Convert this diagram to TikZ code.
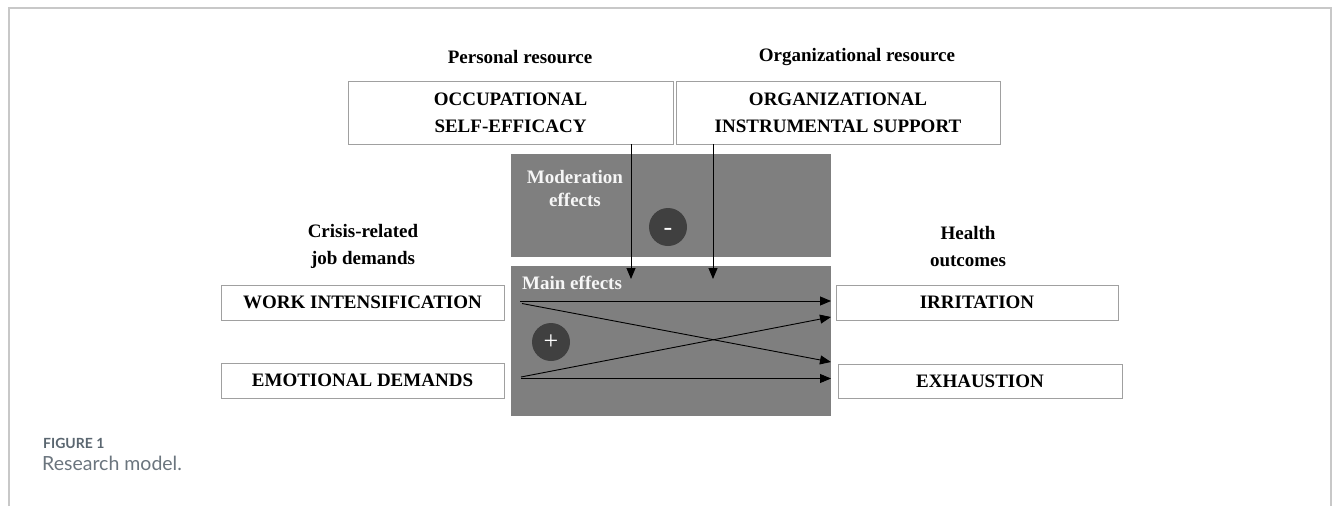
\documentclass[tikz,border=0pt]{standalone}
\usepackage{fontspec}
\setmainfont{Liberation Serif}
\newfontfamily\capfont{Lato}
\usetikzlibrary{arrows.meta}
\definecolor{boxgray}{HTML}{7F7F7F}
\definecolor{circgray}{HTML}{404040}
\definecolor{edgegray}{HTML}{A0A0A0}
\definecolor{framegray}{HTML}{C8C8C8}
\definecolor{capgray}{HTML}{5A6670}
\tikzset{
  wbox/.style={draw=edgegray, line width=1pt, fill=white, inner sep=0pt, outer sep=0pt,
    font=\fontsize{19}{27}\selectfont\bfseries, align=center},
  gbox/.style={fill=boxgray, draw=none, inner sep=0pt, outer sep=0pt},
  lbl/.style={font=\fontsize{19}{27}\selectfont\bfseries, align=center, inner sep=0pt},
  wlbl/.style={font=\fontsize{19}{23}\selectfont\bfseries, align=center, inner sep=0pt, text=white!93!gray},
  sign/.style={circle, fill=circgray, minimum size=38pt, inner sep=0pt, text=white, font=\fontsize{26}{26}\selectfont},
  arr/.style={line width=0.9pt, -{Triangle[length=11pt,width=9pt]}}
}
\begin{document}
\begin{tikzpicture}[x=1pt,y=-1pt]
\useasboundingbox (0,0) rectangle (1333,506);
% frame
\draw[framegray, line width=2pt] (9,506) -- (9,7.5) -- (1331,7.5) -- (1331,506);
% headings
\node[lbl] (hpers) at (520,57) {Personal resource};
\node[lbl] (horg) at (857,57) {Organizational resource};
\node[lbl] (hcris) at (363,246.5) {Crisis-related\\job demands};
\node[lbl] (hhealth) at (968,246.5) {Health\\outcomes};
% resource boxes
\node[wbox, minimum width=325pt, minimum height=63pt] (ose) at (510.5,112.5) {OCCUPATIONAL\\SELF-EFFICACY};
\node[wbox, minimum width=324pt, minimum height=63pt] (ois) at (838,112.5) {ORGANIZATIONAL\\INSTRUMENTAL SUPPORT};
% gray panels
\node[gbox, minimum width=320pt, minimum height=103pt] (mod) at (671,205.5) {};
\node[gbox, minimum width=320pt, minimum height=150pt] (main) at (671,341) {};
\node[wlbl] (modtxt) at (575,188.5) {Moderation\\effects};
\node[wlbl, anchor=west] (maintxt) at (522,283) {Main effects};
\node[sign] (minus) at (668,227) {\smash{\raisebox{-8.5pt}{-}}};
\node[sign] (plus) at (551,342) {+};
% demand and outcome boxes
\node[wbox, minimum width=283pt, minimum height=35pt] (wi) at (362.5,302.5) {WORK INTENSIFICATION};
\node[wbox, minimum width=283pt, minimum height=35pt] (ed) at (362.5,380.5) {EMOTIONAL DEMANDS};
\node[wbox, minimum width=282pt, minimum height=35pt] (irr) at (977,302.5) {IRRITATION};
\node[wbox, minimum width=284pt, minimum height=34pt] (exh) at (980,381) {EXHAUSTION};
% moderation arrows
\coordinate (m1) at (631,279);
\coordinate (m2) at (713,279);
\draw[arr] (ose.south -| m1) -- (m1);
\draw[arr] (ois.south -| m2) -- (m2);
% main effect arrows
\coordinate (s1) at (520,301);
\coordinate (s1b) at (522,303.5);
\coordinate (s2) at (521,377);
\coordinate (s2b) at (521,378.5);
\coordinate (e1) at (831,301);
\coordinate (e1b) at (831,317);
\coordinate (e2) at (831,362);
\coordinate (e2b) at (831,378.5);
\draw[arr] (s1) -- (e1);
\draw[arr] (s1b) -- (e2);
\draw[arr] (s2) -- (e1b);
\draw[arr] (s2b) -- (e2b);
% caption
\node[anchor=base west, inner sep=0pt, text=capgray, font=\capfont\fontsize{14}{14}\selectfont\bfseries] (fig) at (43,448) {FIGURE 1};
\node[anchor=base west, inner sep=0pt, text=capgray!90!white, font=\capfont\fontsize{19.5}{19.5}\selectfont] (cap) at (42,470) {Research model.};
\end{tikzpicture}
\end{document}
